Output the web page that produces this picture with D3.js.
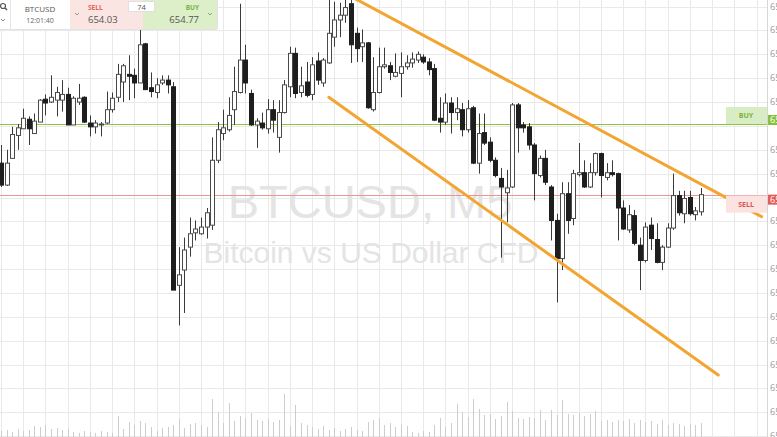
<!DOCTYPE html>
<html><head><meta charset="utf-8">
<script src="https://cdn.jsdelivr.net/npm/d3@7/dist/d3.min.js"></script>
<style>html,body{margin:0;padding:0;background:#fff;overflow:hidden}svg{display:block}</style>
</head><body><svg id="c" width="777" height="437"></svg>
<script>
// ---- data ----
const symbol = "BTCUSD";
const timeLabel = "12:01:40";
const sellPrice = 654.03;
const buyPrice = 654.77;
const spread = "74";
const watermark1 = "BTCUSD, M5";
const watermark2 = "Bitcoin vs US Dollar CFD";
const priceTicks = [656.00,655.75,655.50,655.25,655.00,654.75,654.50,654.25,654.00,653.75,653.50,653.25,653.00,652.75,652.50,652.25,652.00,651.75,651.50];

const open = [654.36,654.13,654.41,654.65,654.72,654.82,654.67,654.79,655.03,655.00,655.02,655.02,655.08,654.76,655.00,655.05,654.78,654.74,654.76,654.78,654.92,655.05,655.21,655.29,655.28,655.20,655.61,655.15,655.10,655.20,655.23,655.16,653.08,653.24,653.48,653.63,653.62,653.69,653.71,654.39,654.67,654.71,654.92,655.10,655.44,655.09,654.76,654.78,654.72,654.92,654.63,654.89,655.16,655.51,655.10,655.21,655.08,655.43,655.20,655.41,655.68,655.86,655.91,656.03,655.72,655.58,655.62,654.92,655.10,655.37,655.38,655.27,655.30,655.37,655.41,655.44,655.47,655.42,655.35,654.83,654.79,654.99,654.89,654.92,654.71,654.94,654.36,654.68,654.58,654.39,654.20,654.05,654.11,654.97,654.76,654.74,654.55,654.23,654.41,654.11,653.76,653.36,654.04,653.78,654.24,654.26,654.11,654.26,654.46,654.21,654.26,654.25,653.89,653.66,653.81,653.50,653.34,653.71,653.56,653.32,653.48,653.68,654.02,653.83,654.00,653.82,653.85];
const high = [654.55,654.50,654.74,654.77,654.93,654.85,654.88,655.03,655.08,655.28,655.16,655.23,655.15,655.06,655.19,655.06,654.86,654.81,654.79,655.11,655.10,655.40,655.40,655.49,655.35,655.78,655.62,655.31,655.25,655.28,655.28,655.21,653.48,653.58,653.79,653.76,653.79,653.89,654.63,654.79,654.92,655.05,655.37,656.03,655.60,655.13,654.83,654.89,655.03,655.02,655.02,655.23,655.58,655.57,655.37,655.42,655.47,655.52,655.46,656.07,656.05,656.04,656.10,656.10,655.78,655.76,655.63,655.47,655.57,655.57,655.42,655.51,655.52,655.49,655.52,655.53,655.50,655.46,655.40,655.05,655.09,655.05,655.05,654.99,655.02,654.96,654.88,654.88,654.63,654.42,654.31,654.29,654.99,654.99,654.79,654.78,654.57,654.44,654.50,654.13,653.83,654.16,654.16,654.29,654.57,654.39,654.36,654.47,654.47,654.36,654.39,654.26,653.97,653.92,653.87,653.58,653.74,653.79,653.73,653.50,653.73,654.25,654.07,654.07,654.07,653.90,654.10];
const low = [654.11,654.12,654.41,654.50,654.72,654.55,654.67,654.79,654.86,654.99,654.85,654.90,654.76,654.76,654.97,654.78,654.64,654.67,654.64,654.77,654.89,655.00,655.00,655.02,655.04,655.20,655.13,655.05,655.04,655.18,655.09,653.03,652.66,652.79,653.38,653.55,653.61,653.57,653.66,654.36,654.60,654.69,654.76,655.09,655.09,654.75,654.52,654.71,654.67,654.68,654.47,654.88,655.05,655.04,655.05,655.05,655.02,655.18,655.16,655.40,655.58,655.68,655.83,655.41,655.42,655.42,654.93,654.90,655.09,655.35,655.23,655.26,655.05,655.34,655.36,655.41,655.40,655.28,654.80,654.68,654.76,654.67,654.81,654.64,654.68,654.35,654.25,654.55,654.37,654.21,653.37,653.74,654.10,654.47,654.68,654.50,653.97,654.21,654.13,653.55,652.90,653.24,653.62,653.71,654.22,654.10,654.10,654.23,654.00,654.18,654.22,653.55,653.66,653.63,653.50,653.03,653.32,653.45,653.31,653.24,653.47,653.66,653.81,653.73,653.81,653.76,653.81];
const close = [654.13,654.36,654.66,654.73,654.83,654.72,654.80,655.02,654.99,655.05,655.10,655.08,654.76,655.04,655.04,654.79,654.74,654.78,654.77,654.92,655.04,655.29,655.38,655.27,655.20,655.60,655.13,655.11,655.18,655.23,655.18,653.03,653.19,653.45,653.62,653.67,653.69,653.84,654.39,654.71,654.73,654.86,655.11,655.44,655.20,654.76,654.80,654.73,654.92,654.81,654.89,655.18,655.51,655.09,655.17,655.07,655.39,655.23,655.44,655.72,655.86,655.91,655.99,655.60,655.56,655.62,654.94,655.10,655.37,655.39,655.31,655.31,655.37,655.41,655.45,655.50,655.42,655.34,654.81,654.79,654.99,654.89,654.93,654.71,654.93,654.36,654.67,654.57,654.39,654.23,654.11,654.10,654.97,654.73,654.73,654.55,654.25,654.41,654.16,653.76,653.36,654.04,653.76,654.25,654.26,654.11,654.26,654.46,654.23,654.26,654.24,653.89,653.67,653.82,653.52,653.34,653.69,653.57,653.32,653.48,653.68,654.02,653.84,653.99,653.83,653.86,654.03];
const volume = [6,7,5,8,6,7,11,10,12,8,9,7,8,5,4,6,5,4,6,5,4,21,8,15,12,16,14,10,6,9,10,12,18,9,13,14,12,10,38,25,14,34,16,21,19,24,17,16,18,15,17,43,11,32,14,12,10,8,11,7,9,6,8,10,7,6,15,17,19,12,14,10,13,11,5,4,6,5,12,19,10,14,33,25,20,38,28,22,23,18,21,35,26,19,18,20,19,27,17,27,22,37,23,22,24,21,23,26,16,17,15,17,16,18,14,17,15,16,13,17,12,14,13,11,13,12,14];
// channel lines: [candle index, price] end points
const upperChannel = [[63.2,656.10],[136.9,653.80]];
const lowerChannel = [[59, 655.05],[129.1,652.14]];

// ---- layout ----
const svg = d3.select("#c");
const W = 777, H = 437, plotRight = 767;
const idx = d3.range(open.length);
const x = d3.scaleLinear().domain([0, open.length - 1]).range([1, 701]);
const y = d3.scaleLinear().domain([654, 656]).range([197.5, 6.6]);
const yv = d3.scaleLinear().domain([0, 50]).range([437, 387]);

// grid
const gx = d3.range(0, 140, 4).map(i => x(i)).filter(v => v < plotRight);
svg.append("g").selectAll("line").data(gx).join("line")
  .attr("x1", d => Math.round(d) + 0.5).attr("x2", d => Math.round(d) + 0.5)
  .attr("y1", 0).attr("y2", H).attr("stroke", "#e9e9e9").attr("stroke-width", 1);
svg.append("g").selectAll("line").data(priceTicks).join("line")
  .attr("x1", 0).attr("x2", plotRight)
  .attr("y1", d => Math.round(y(d)) + 0.5).attr("y2", d => Math.round(y(d)) + 0.5)
  .attr("stroke", "#e9e9e9").attr("stroke-width", 1);

// watermark
svg.append("text").attr("x", 370).attr("y", 218).attr("text-anchor", "middle")
  .attr("font-family", "Liberation Sans, Arial, sans-serif").attr("font-size", 47)
  .attr("fill", "#e4e4e4").text(watermark1);
svg.append("text").attr("x", 371).attr("y", 263).attr("text-anchor", "middle")
  .attr("font-family", "Liberation Sans, Arial, sans-serif").attr("font-size", 30)
  .attr("fill", "#e4e4e4").text(watermark2);

// volume
svg.append("g").selectAll("line").data(idx).join("line")
  .attr("x1", i => Math.round(x(i)) + 0.5).attr("x2", i => Math.round(x(i)) + 0.5)
  .attr("y1", yv(0)).attr("y2", i => yv(volume[i]))
  .attr("stroke", "#cdcdcd").attr("stroke-width", 1);

// buy / sell lines
svg.append("line").attr("x1", 0).attr("x2", plotRight).attr("y1", Math.round(y(buyPrice)) + 0.5).attr("y2", Math.round(y(buyPrice)) + 0.5)
  .attr("stroke", "#8dc53e").attr("stroke-width", 1);
svg.append("line").attr("x1", 0).attr("x2", plotRight).attr("y1", Math.round(y(sellPrice)) + 0.5).attr("y2", Math.round(y(sellPrice)) + 0.5)
  .attr("stroke", "#ee9691").attr("stroke-width", 1);

// candles
const cg = svg.append("g");
cg.selectAll("line").data(idx).join("line")
  .attr("x1", i => Math.round(x(i)) + 0.5).attr("x2", i => Math.round(x(i)) + 0.5)
  .attr("y1", i => y(high[i])).attr("y2", i => y(low[i]))
  .attr("stroke", "#3a3a3a").attr("stroke-width", 1);
cg.selectAll("rect").data(idx).join("rect")
  .attr("x", i => Math.round(x(i)) - 1.5)
  .attr("width", 4)
  .attr("y", i => y(Math.max(open[i], close[i])))
  .attr("height", i => Math.max(1, Math.abs(y(open[i]) - y(close[i]))))
  .attr("fill", i => close[i] >= open[i] ? "#ffffff" : "#1e1e1e")
  .attr("stroke", i => close[i] >= open[i] ? "#4a4a4a" : "#1e1e1e")
  .attr("stroke-width", 1);

// channel lines
const chan = d3.line().x(d => x(d[0])).y(d => y(d[1]));
[upperChannel, lowerChannel].forEach(c => {
  svg.append("path").attr("d", chan(c)).attr("fill", "none")
    .attr("stroke", "#f2a531").attr("stroke-width", 3).attr("stroke-linecap", "round");
});

// BUY / SELL boxes on the right
svg.append("rect").attr("x", 726).attr("y", y(buyPrice) - 17).attr("width", 41).attr("height", 17).attr("fill", "#d8edc4");
svg.append("text").attr("x", 746).attr("y", y(buyPrice) - 6).attr("text-anchor", "middle")
  .attr("font-family", "Open Sans, sans-serif").attr("font-size", 7).attr("font-weight", "bold")
  .attr("fill", "#7fae3c").text("BUY");
svg.append("rect").attr("x", 726).attr("y", y(sellPrice) + 1).attr("width", 41).attr("height", 17).attr("fill", "#fbe3e2");
svg.append("text").attr("x", 746).attr("y", y(sellPrice) + 12.5).attr("text-anchor", "middle")
  .attr("font-family", "Open Sans, sans-serif").attr("font-size", 7).attr("font-weight", "bold")
  .attr("fill", "#d9534f").text("SELL");

// price axis
svg.append("rect").attr("x", plotRight).attr("y", 0).attr("width", W - plotRight).attr("height", H).attr("fill", "#fff");
svg.append("line").attr("x1", plotRight + 0.5).attr("x2", plotRight + 0.5).attr("y1", 0).attr("y2", H)
  .attr("stroke", "#d6d6d6");
const tagYs = [y(buyPrice) - 4, y(sellPrice) + 5];
const shownTicks = priceTicks.filter(p => tagYs.every(t => Math.abs(y(p) - t) > 11));
svg.append("g").selectAll("text").data(shownTicks).join("text")
  .attr("x", 770).attr("y", d => y(d) + 3)
  .attr("font-family", "Open Sans, sans-serif").attr("font-size", 9).attr("fill", "#9a9a9a")
  .text(d => d.toFixed(2));
svg.append("rect").attr("x", 768).attr("y", y(buyPrice) - 9).attr("width", 9).attr("height", 10).attr("fill", "#86c13a");
svg.append("text").attr("x", 770).attr("y", y(buyPrice) - 1).attr("font-family", "Open Sans, sans-serif")
  .attr("font-size", 9).attr("fill", "#fff").text(buyPrice.toFixed(2));
svg.append("rect").attr("x", 768).attr("y", y(sellPrice)).attr("width", 9).attr("height", 10).attr("fill", "#e25c58");
svg.append("text").attr("x", 770).attr("y", y(sellPrice) + 8).attr("font-family", "Open Sans, sans-serif")
  .attr("font-size", 9).attr("fill", "#fff").text(sellPrice.toFixed(2));

// header panel
const hd = svg.append("g");
hd.append("rect").attr("x", 0).attr("y", 0).attr("width", 70).attr("height", 29).attr("fill", "#fff");
hd.append("rect").attr("x", 70).attr("y", 0).attr("width", 73).attr("height", 29).attr("fill", "#fbe5e2");
hd.append("rect").attr("x", 143).attr("y", 0).attr("width", 74).attr("height", 29).attr("fill", "#dcefc8");
hd.append("line").attr("x1", 0).attr("x2", 217).attr("y1", 29.5).attr("y2", 29.5).attr("stroke", "#e2e2e2");
hd.append("line").attr("x1", 10.5).attr("x2", 10.5).attr("y1", 0).attr("y2", 29).attr("stroke", "#e6e6e6");
hd.append("line").attr("x1", 217.5).attr("x2", 217.5).attr("y1", 0).attr("y2", 29).attr("stroke", "#e2e2e2");
// search icon
hd.append("circle").attr("cx", 3).attr("cy", 6).attr("r", 2.5).attr("fill", "none").attr("stroke", "#555").attr("stroke-width", 1.2);
hd.append("line").attr("x1", 5).attr("y1", 8).attr("x2", 7).attr("y2", 10).attr("stroke", "#555").attr("stroke-width", 1.4);
const chev = (cx, cy) => `M${cx-2},${cy-1}L${cx},${cy+1}L${cx+2},${cy-1}`;
hd.append("path").attr("d", chev(3, 20)).attr("fill", "none").attr("stroke", "#888");
hd.append("path").attr("d", chev(77, 14)).attr("fill", "none").attr("stroke", "#999");
hd.append("path").attr("d", chev(210, 14)).attr("fill", "none").attr("stroke", "#999");
hd.append("text").attr("x", 40).attr("y", 12).attr("text-anchor", "middle").attr("font-family", "Open Sans, sans-serif")
  .attr("font-size", 8).attr("fill", "#555").text(symbol);
hd.append("text").attr("x", 40).attr("y", 23).attr("text-anchor", "middle").attr("font-family", "Open Sans, sans-serif")
  .attr("font-size", 7).attr("fill", "#666").text(timeLabel);
hd.append("text").attr("x", 88).attr("y", 10).attr("font-family", "Open Sans, sans-serif")
  .attr("font-size", 6.5).attr("font-weight", "bold").attr("fill", "#e0645c").text("SELL");
hd.append("text").attr("x", 88).attr("y", 23).attr("font-family", "Open Sans, sans-serif")
  .attr("font-size", 9.5).attr("fill", "#555").text(sellPrice.toFixed(2));
hd.append("text").attr("x", 199).attr("y", 10).attr("text-anchor", "end").attr("font-family", "Open Sans, sans-serif")
  .attr("font-size", 6.5).attr("font-weight", "bold").attr("fill", "#7cb342").text("BUY");
hd.append("text").attr("x", 199).attr("y", 23).attr("text-anchor", "end").attr("font-family", "Open Sans, sans-serif")
  .attr("font-size", 9.5).attr("fill", "#555").text(buyPrice.toFixed(2));
hd.append("rect").attr("x", 128.5).attr("y", 1.5).attr("width", 26).attr("height", 10).attr("fill", "#fff").attr("stroke", "#e0e0e0");
hd.append("text").attr("x", 141.5).attr("y", 9.5).attr("text-anchor", "middle").attr("font-family", "Open Sans, sans-serif")
  .attr("font-size", 7.5).attr("fill", "#555").text(spread);
</script></body></html>
